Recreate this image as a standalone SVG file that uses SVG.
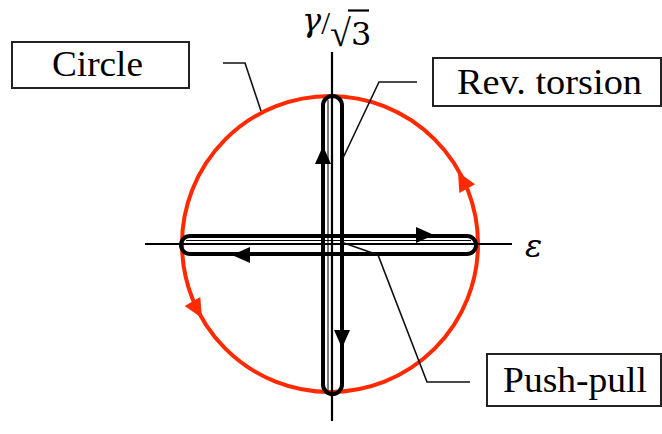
<svg xmlns="http://www.w3.org/2000/svg" width="662" height="434" viewBox="0 0 662 434">
  <style>
    .lbl { font-family: "Liberation Serif", "Times New Roman", serif; font-size: 36px; fill: #000; }
    .box { fill: #fff; stroke: #222; stroke-width: 2; }
    .leader { fill: none; stroke: #111; stroke-width: 1.6; }
    .axis { stroke: #000; stroke-width: 2.2; fill: none; }
    .bar { fill: none; stroke: #000; stroke-width: 4; }
    .math { font-family: "DejaVu Serif", "Liberation Serif", serif; fill: #000; }
    .ms { font-family: "Liberation Serif", serif; }
  </style>
  <defs>
    <path id="ah" d="M0,0 L-18,-8 L-18,8 Z" fill="#000"/>
    <path id="ahr" d="M0,0 L-19,-9 L-19,9 Z" fill="#ff2a00"/>
  </defs>
  <rect width="662" height="434" fill="#fff"/>

  <g id="circle-path">
    <circle cx="330" cy="244" r="148" fill="none" stroke="#ff2a00" stroke-width="4"/>
    <use href="#ahr" transform="translate(458,172) rotate(-119)"/>
    <use href="#ahr" transform="translate(202,318) rotate(60)"/>
  </g>

  <g id="axes">
    <line class="axis" x1="332" y1="52" x2="332" y2="421"/>
    <line class="axis" x1="145" y1="244" x2="512" y2="244"/>
  </g>

  <g id="rev-torsion-path">
    <rect class="bar" x="323" y="96" width="19" height="298" rx="9.5"/>
    <line x1="328" y1="100" x2="328" y2="390" stroke="#000" stroke-width="1"/>
    <use href="#ah" transform="translate(323,146) rotate(-90)"/>
    <use href="#ah" transform="translate(342,348) rotate(90)"/>
  </g>

  <g id="push-pull-path">
    <rect class="bar" x="181" y="236" width="295" height="18" rx="9"/>
    <line x1="186" y1="240.5" x2="471" y2="240.5" stroke="#000" stroke-width="1"/>
    <use href="#ah" transform="translate(434,235) rotate(0)"/>
    <use href="#ah" transform="translate(232,255) rotate(180)"/>
  </g>

  <g id="connectors">
    <polyline class="leader" points="223,63 245,63 261,111"/>
    <polyline class="leader" points="417,82 379,82 343,158"/>
    <polyline class="leader" points="470,382 427,382 378,255 344,243"/>
  </g>

  <g id="label-circle">
    <rect class="box" x="12" y="42" width="177" height="46"/>
    <text class="lbl" x="52" y="76" textLength="91" lengthAdjust="spacingAndGlyphs">Circle</text>
  </g>
  <g id="label-rev-torsion">
    <rect class="box" x="433" y="58" width="228" height="48"/>
    <text class="lbl" x="457" y="94" textLength="185" lengthAdjust="spacingAndGlyphs">Rev. torsion</text>
  </g>
  <g id="label-push-pull">
    <rect class="box" x="487" y="354" width="174" height="52"/>
    <text class="lbl" x="503" y="392" textLength="144" lengthAdjust="spacingAndGlyphs">Push-pull</text>
  </g>

  <g id="axis-labels">
    <text class="math" x="302" y="31" font-size="32"><tspan font-style="italic">γ</tspan><tspan class="ms" dy="3">/</tspan><tspan class="ms" dy="12" font-size="38">√</tspan><tspan dy="-1">3</tspan></text>
    <line x1="348" y1="10.5" x2="369" y2="10.5" stroke="#000" stroke-width="2.2"/>
    <text class="math" x="525" y="257" font-size="32" font-style="italic">ε</text>
  </g>
</svg>
